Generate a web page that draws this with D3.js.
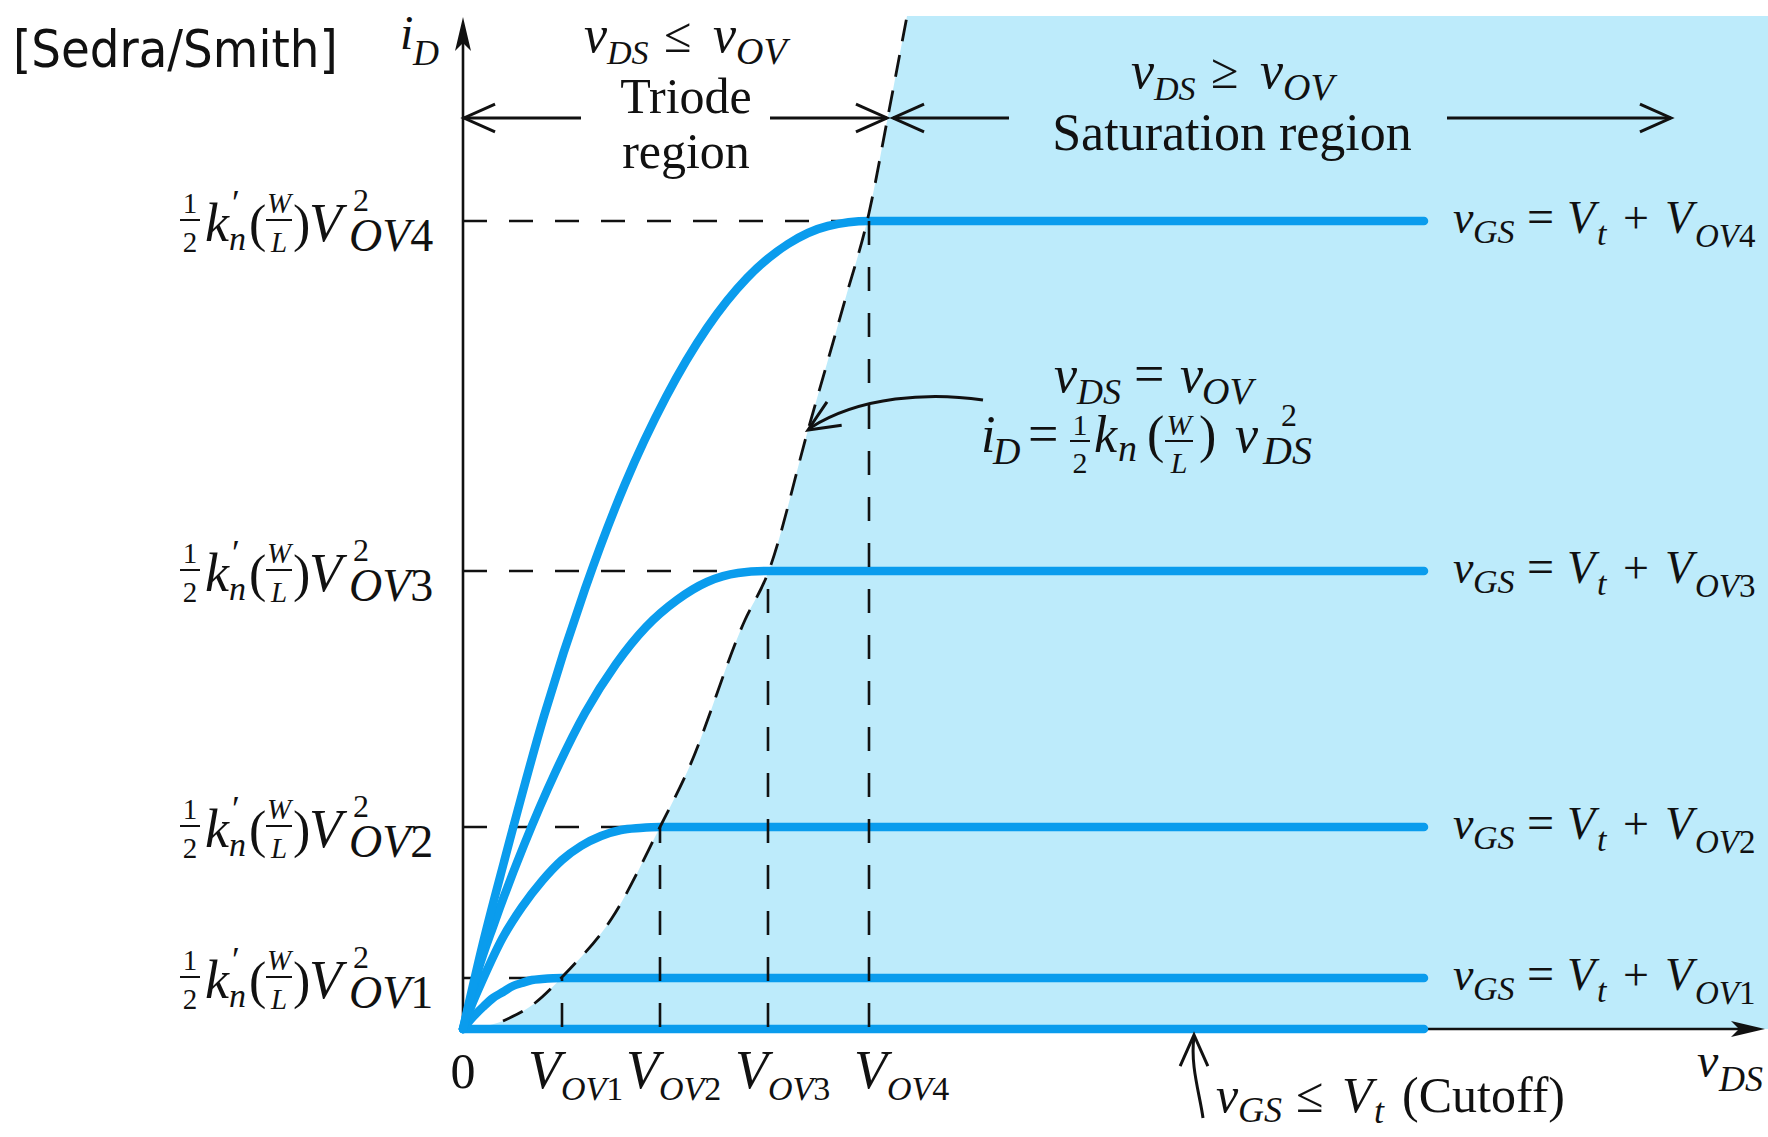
<!DOCTYPE html>
<html>
<head>
<meta charset="utf-8">
<script src="https://cdnjs.cloudflare.com/ajax/libs/d3/7.8.5/d3.min.js"></script>
<style>
  body { margin: 0; background: #fff; }
  text { font-family: "Liberation Serif", "Times New Roman", serif; fill: #111; }
</style>
</head>
<body>
<div id="chart"></div>
<script>
var svgWidth = 1768;
var svgHeight = 1137;

// overdrive voltages (x) and saturation currents (y), plot units
var vovNames = ["1", "2", "3", "4"];
var vovValues = [0.99, 1.97, 3.05, 4.06];
var idSat = [0.51, 2.02, 4.58, 8.08];

// i_D - v_DS curves (triode part, then flat to v_DS = 9.61)
var curveOV1 = [[0, 0], [0.1, 0.12], [0.2, 0.22], [0.3, 0.31], [0.4, 0.37], [0.5, 0.43], [0.59, 0.46], [0.69, 0.49], [0.79, 0.5], [0.99, 0.51], [9.61, 0.51]];
var curveOV2 = [[0, 0], [0.1, 0.27], [0.2, 0.5], [0.39, 0.9], [0.59, 1.22], [0.79, 1.48], [0.99, 1.69], [1.18, 1.83], [1.38, 1.93], [1.58, 1.99], [1.77, 2.01], [1.97, 2.02], [9.61, 2.02]];
var curveOV3 = [[0, 0], [0.15, 0.58], [0.31, 1.05], [0.61, 1.84], [0.92, 2.56], [1.22, 3.16], [1.53, 3.65], [1.83, 4.02], [2.14, 4.29], [2.44, 4.47], [2.75, 4.56], [3.05, 4.58], [9.61, 4.58]];
var curveOV4 = [[0, 0], [0.2, 0.86], [0.41, 1.67], [0.81, 3.13], [1.22, 4.4], [1.62, 5.45], [2.03, 6.32], [2.44, 7.01], [2.84, 7.51], [3.25, 7.85], [3.65, 8.03], [4.06, 8.08], [9.61, 8.08]];
var cutoffLine = [[0, 0], [9.61, 0]];

// triode / saturation boundary v_DS = v_OV
var edgePoints = [[0, 0], [0.4, 0.08], [0.72, 0.26], [1.02, 0.55], [1.49, 1.11], [1.97, 2.02], [2.25, 2.59], [2.82, 4.09], [3.05, 4.56], [3.45, 5.99], [3.82, 7.29], [4.06, 8.16], [4.25, 9.13], [4.44, 10.13]];

var blue = "#0a9ced";
var fillBlue = "#bdebfb";

var svg = d3.select("#chart")
  .append("svg")
  .attr("width", svgWidth)
  .attr("height", svgHeight)
  .style("background", "#fff");

var x = d3.scaleLinear().domain([0, 13.02]).range([463, 1765]);
var y = d3.scaleLinear().domain([0, 10.13]).range([1029, 16]);

var line = d3.line()
  .x(d => x(d[0]))
  .y(d => y(d[1]))
  .curve(d3.curveMonotoneX);

// shaded saturation region
svg.append("path")
  .attr("d", line(edgePoints) + "L" + x(13.2) + "," + y(10.13) + "L" + x(13.2) + "," + y(0) + "Z")
  .attr("fill", fillBlue);

// horizontal dashed guides (under the curves)
svg.selectAll(".hguide")
  .data(idSat)
  .enter()
  .append("line")
  .attr("x1", x(0))
  .attr("x2", (d, i) => x(vovValues[i]))
  .attr("y1", d => y(d))
  .attr("y2", d => y(d))
  .attr("stroke", "#111")
  .attr("stroke-width", 2.6)
  .attr("stroke-dasharray", "24,22");

// axes
svg.append("line")
  .attr("x1", x(0)).attr("y1", y(0))
  .attr("x2", x(0)).attr("y2", y(9.9))
  .attr("stroke", "#111").attr("stroke-width", 2.6);
svg.append("line")
  .attr("x1", x(0)).attr("y1", y(0))
  .attr("x2", x(12.8)).attr("y2", y(0))
  .attr("stroke", "#111").attr("stroke-width", 2.6);

// filled arrow heads on the axes
var yTip = [x(0), y(10.12)];
svg.append("path")
  .attr("d", `M${yTip[0]},${yTip[1]} L${yTip[0] - 8},${yTip[1] + 34} L${yTip[0]},${yTip[1] + 26} L${yTip[0] + 8},${yTip[1] + 34} Z`)
  .attr("fill", "#111");
var xTip = [x(13.02), y(0)];
svg.append("path")
  .attr("d", `M${xTip[0]},${xTip[1]} L${xTip[0] - 34},${xTip[1] - 8} L${xTip[0] - 26},${xTip[1]} L${xTip[0] - 34},${xTip[1] + 8} Z`)
  .attr("fill", "#111");

// blue characteristic curves
var curves = [cutoffLine, curveOV1, curveOV2, curveOV3, curveOV4];
svg.selectAll(".curve")
  .data(curves)
  .enter()
  .append("path")
  .attr("d", d => line(d))
  .attr("fill", "none")
  .attr("stroke", blue)
  .attr("stroke-width", 8.5)
  .attr("stroke-linecap", "round")
  .attr("stroke-linejoin", "round");

// vertical dashed guides at V_OV
svg.selectAll(".vguide")
  .data(vovValues)
  .enter()
  .append("line")
  .attr("x1", d => x(d))
  .attr("x2", d => x(d))
  .attr("y1", y(0) - 2)
  .attr("y2", (d, i) => y(idSat[i]))
  .attr("stroke", "#111")
  .attr("stroke-width", 2.6)
  .attr("stroke-dasharray", "24,22");

// dashed boundary parabola
svg.append("path")
  .attr("d", line(edgePoints.slice(1)))
  .attr("fill", "none")
  .attr("stroke", "#111")
  .attr("stroke-width", 2.8)
  .attr("stroke-dasharray", "22,14");

// open arrow head helper
function openHead(tx, ty, fx, fy) {
  var a = Math.atan2(ty - fy, tx - fx);
  var len = 34, spread = 0.42;
  var p1 = [tx - len * Math.cos(a - spread), ty - len * Math.sin(a - spread)];
  var p2 = [tx - len * Math.cos(a + spread), ty - len * Math.sin(a + spread)];
  svg.append("path")
    .attr("d", `M${p1[0]},${p1[1]} L${tx},${ty} L${p2[0]},${p2[1]}`)
    .attr("fill", "none")
    .attr("stroke", "#111")
    .attr("stroke-width", 3)
    .attr("stroke-linejoin", "miter");
}

function stroke(d) {
  svg.append("path")
    .attr("d", d)
    .attr("fill", "none")
    .attr("stroke", "#111")
    .attr("stroke-width", 3);
}

// region arrows
var arrowY = 118;
stroke(`M${x(0)},${arrowY} L581,${arrowY}`);
stroke(`M770,${arrowY} L887,${arrowY}`);
openHead(x(0) + 1, arrowY, x(0) + 40, arrowY);
openHead(887, arrowY, 850, arrowY);
stroke(`M893,${arrowY} L1009,${arrowY}`);
stroke(`M1447,${arrowY} L1671,${arrowY}`);
openHead(893, arrowY, 930, arrowY);
openHead(1671, arrowY, 1630, arrowY);

// curved pointer to the boundary
stroke("M983,400 C930,392 860,396 810,428");
openHead(808, 430, 840, 410);

// cutoff pointer
stroke("M1203,1118 C1200,1095 1190,1065 1194,1037");
openHead(1194, 1035, 1194, 1070);

// math-style text: [text, dx, dy, size, italic, anchor, upright suffix]
function mathText(x0, y0, pieces) {
  pieces.forEach(function(p) {
    var t = svg.append("text")
      .attr("x", x0 + p[1])
      .attr("y", y0 + p[2])
      .attr("font-size", p[3])
      .attr("text-anchor", p[5] || "start");
    var s = t.append("tspan").text(p[0]);
    if (p[4]) s.attr("font-style", "italic");
    if (p[6]) t.append("tspan").text(p[6]);
  });
}

function fracBar(x1, x2, yy) {
  svg.append("line")
    .attr("x1", x1).attr("x2", x2)
    .attr("y1", yy).attr("y2", yy)
    .attr("stroke", "#111").attr("stroke-width", 2);
}

// source tag
svg.append("text")
  .attr("x", 13)
  .attr("y", 67)
  .attr("font-size", 52)
  .attr("font-stretch", "condensed")
  .style("font-family", "'DejaVu Sans Condensed', 'DejaVu Sans', sans-serif")
  .text("[Sedra/Smith]");

// axis titles
mathText(400, 49, [["i", 0, 0, 48, true], ["D", 13, 16, 36, true]]);
mathText(1697, 1077, [["v", 0, 0, 48, true], ["DS", 22, 14, 36, true]]);
mathText(x(0), 1088, [["0", 0, 0, 50, false, "middle"]]);

// V_OV tick labels
var tickShift = [-34, -34, -33, -15];
vovValues.forEach(function(v, i) {
  mathText(x(v) + tickShift[i], 1088, [["V", 0, 0, 54, true], ["OV", 33, 12, 34, true, "start", vovNames[i]]]);
});

// region headings
function relation(x0, y0, sym) {
  mathText(x0, y0, [["v", 0, 0, 52, true], ["DS", 23, 12, 34, true], [sym, 80, 0, 50],
    ["v", 129, 0, 52, true], ["OV", 152, 12, 38, true]]);
}
relation(584, 52, "\u2264");
relation(1131, 88, "\u2265");
mathText(686, 113, [["Triode", 0, 0, 50, false, "middle"]]);
mathText(686, 168, [["region", 0, 0, 50, false, "middle"]]);
mathText(1232, 150, [["Saturation region", 0, 0, 52, false, "middle"]]);

// boundary equation
mathText(1054, 392, [["v", 0, 0, 52, true], ["DS", 23, 12, 36, true], ["=", 80, 0, 54], ["v", 126, 0, 52, true], ["OV", 148, 12, 38, true]]);
mathText(981, 452, [["i", 0, 0, 52, true], ["D", 12, 12, 38, true], ["=", 47, 0, 54],
  ["1", 99, -17, 30, false, "middle"], ["2", 99, 21, 30, false, "middle"],
  ["k", 113, 0, 52, true], ["n", 137, 9, 38, true], ["(", 166, 0, 52],
  ["W", 198, -17, 30, true, "middle"], ["L", 198, 21, 30, true, "middle"], [")", 218, 0, 52],
  ["v", 254, 0, 52, true], ["2", 300, -26, 32], ["DS", 282, 12, 40, true]]);
fracBar(981 + 89, 981 + 109, 452 - 11);
fracBar(981 + 184, 981 + 212, 452 - 11);

// y-axis labels: 1/2 k'n (W/L) V^2_OVi
idSat.forEach(function(v, i) {
  var x0 = 180, yl = y(v), base = yl + 20;
  mathText(x0, base, [
    ["1", 10, -28, 29, false, "middle"], ["2", 10, 11, 29, false, "middle"],
    ["k", 25, 0, 54, true], ["\u2032", 52, -26, 36], ["n", 49, 9, 34, true],
    ["(", 69, 0, 52],
    ["W", 99, -28, 29, true, "middle"], ["L", 99, 11, 29, true, "middle"],
    [")", 113, 0, 52],
    ["V", 129, 0, 54, true], ["2", 173, -30, 32], ["OV", 169, 10, 46, true, "start", vovNames[i]]
  ]);
  fracBar(x0, x0 + 20, yl - 1);
  fracBar(x0 + 86, x0 + 112, yl - 1);
});

// right-hand curve labels
idSat.forEach(function(v, i) {
  mathText(1453, y(v) + 12, [["v", 0, 0, 46, true], ["GS", 20, 10, 34, true], ["=", 74, 0, 48],
    ["V", 114, 0, 46, true], ["t", 144, 12, 34, true], ["+", 170, 0, 46],
    ["V", 212, 0, 46, true], ["OV", 242, 14, 33, true, "start", vovNames[i]]]);
});

// cutoff label
mathText(1216, 1112, [["v", 0, 0, 50, true], ["GS", 22, 10, 36, true], ["\u2264", 80, 0, 50],
  ["V", 126, 0, 50, true], ["t", 158, 11, 36, true], ["(Cutoff)", 186, 0, 50]]);
</script>
</body>
</html>
